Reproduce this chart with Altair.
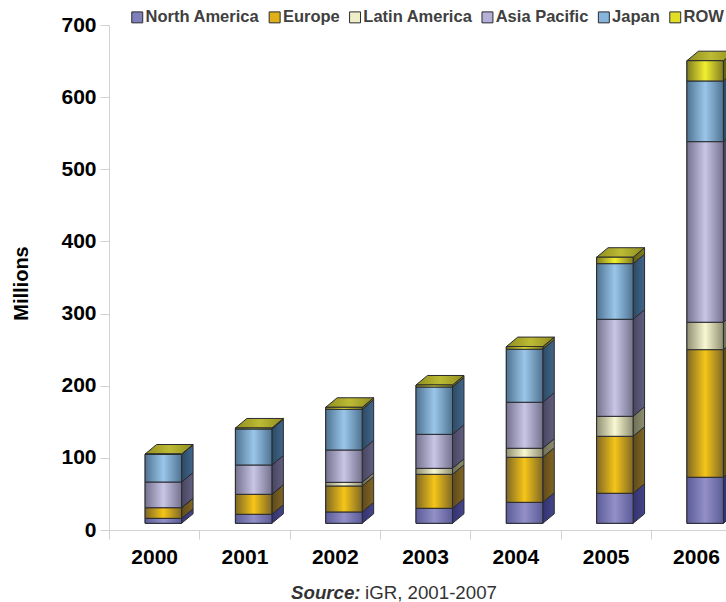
import altair as alt
import pandas as pd

years = [2000, 2001, 2002, 2003, 2004, 2005, 2006]
regions = ["North America", "Europe", "Latin America", "Asia Pacific", "Japan", "ROW"]

north_america = [6.9, 12.5, 15.7, 20.8, 29.1, 41.6, 63.8]
europe = [14.7, 27.7, 36.0, 47.1, 62.4, 79.0, 176.9]
latin_america = [0.0, 0.0, 5.1, 8.3, 12.5, 27.7, 38.0]
asia_pacific = [35.6, 40.6, 44.8, 47.1, 63.8, 134.5, 250.3]
japan = [38.4, 49.9, 56.4, 65.6, 73.5, 77.1, 84.1]
row = [0.4, 1.4, 2.8, 2.8, 3.6, 8.9, 28.1]
series = [north_america, europe, latin_america, asia_pacific, japan, row]

# per-region shades: gradient edge, gradient centre, side face (near, far), flat legend swatch
edge = ["#5b5b99", "#7f6825", "#8f8f72", "#74728f", "#4f7391", "#7f7d20"]
centre = ["#9290c6", "#f5c518", "#f8f8d2", "#c9c5e5", "#9ac6ea", "#f2ee30"]
side_near = ["#333370", "#5f4a18", "#6f6f55", "#474560", "#2c4a63", "#62600f"]
side_far = ["#45458a", "#806526", "#8e8e70", "#626080", "#42668a", "#807e1c"]
swatch = ["#7f7fbb", "#e0b01a", "#eeeec8", "#b5b1d6", "#86b4da", "#e2de28"]
top_edge = "#8f8d1e"
top_centre = "#bdbb34"
outline = "#2a2a30"
axis_grey = "#d2d2d2"
font = "Liberation Sans"

# bars sit on a raised floor and carry a pseudo-3D depth, in axis units
floor = 9.3
bar_left = 0.4
bar_width = 0.404
depth_x = 0.127
depth_y = 13.2

front_rows, side_rows, top_rows = [], [], []
for i, year in enumerate(years):
    level = floor
    left = i + bar_left
    right = left + bar_width
    for name, values in zip(regions, series):
        upper = level + values[i]
        front_rows.append(dict(year=year, region=name, x0=left, x1=right, y0=level, y1=upper))
        side_rows.append(dict(year=year, region=name, x=right, y0=level, y1=upper))
        side_rows.append(dict(year=year, region=name, x=right + depth_x, y0=level + depth_y, y1=upper + depth_y))
        level = upper
    top_rows.append(dict(year=year, x0=left, x1=right, y=level))
    top_rows.append(dict(year=year, x0=left + depth_x, x1=right + depth_x, y=level + depth_y))

front = pd.DataFrame(front_rows)
sides = pd.DataFrame(side_rows)
tops = pd.DataFrame(top_rows)

x_scale = alt.Scale(domain=[0, 617 / 90.3], nice=False, zero=False)
y_scale = alt.Scale(domain=[0, 700], nice=False)


def across(a, b):
    return alt.LinearGradient(
        gradient="linear", x1=0, x2=1, y1=0, y2=0,
        stops=[
            alt.GradientStop(offset=0, color=a),
            alt.GradientStop(offset=0.5, color=b),
            alt.GradientStop(offset=1, color=a),
        ],
    )


def fade(a, b):
    return alt.LinearGradient(
        gradient="linear", x1=0, x2=1, y1=0, y2=0,
        stops=[
            alt.GradientStop(offset=0, color=a),
            alt.GradientStop(offset=1, color=b),
        ],
    )


x_axis = alt.Axis(
    values=[v / 2 for v in range(14)],
    labelExpr="datum.value % 1 ? '' + (1999.5 + datum.value) : ''",
    labelOverlap=False, labelFont=font, labelFontSize=21, labelFontWeight="bold",
    labelColor="#000000", labelPadding=7, labelAngle=0,
    tickOpacity={"condition": {"test": "datum.value % 1 != 0", "value": 0}, "value": 1},
    tickColor=axis_grey, tickSize=9, domainColor=axis_grey, grid=False, title=None,
)
y_axis = alt.Axis(
    values=list(range(0, 701, 100)),
    labelFont=font, labelFontSize=21, labelFontWeight="bold", labelColor="#000000",
    labelPadding=4, tickColor=axis_grey, tickSize=9, domainColor=axis_grey, grid=False,
    title="Millions", titleFont=font, titleFontSize=20, titleFontWeight="bold",
    titleColor="#000000", titleX=-78, titleY=258, titleAngle=270,
)

X0 = alt.X("x0:Q", scale=x_scale, axis=x_axis)
Y0 = alt.Y("y0:Q", scale=y_scale, axis=y_axis)

# flat front faces establish the legend
base = alt.Chart(front).mark_rect(stroke=outline, strokeWidth=1).encode(
    x=X0,
    x2="x1:Q",
    y=Y0,
    y2="y1:Q",
    color=alt.Color(
        "region:N",
        scale=alt.Scale(domain=regions, range=swatch),
        legend=alt.Legend(
            title=None, orient="none", legendX=20, legendY=-16, direction="horizontal",
            columns=6, symbolType="square", symbolSize=120, symbolStrokeColor=outline,
            symbolStrokeWidth=1, labelFont=font, labelFontSize=16.5, labelFontWeight="bold",
            labelColor="#404040", labelOffset=0, columnPadding=6.4, labelLimit=200,
        ),
    ),
)

layers = [base]

for name, near, far in zip(regions, side_near, side_far):
    layers.append(
        alt.Chart(sides[sides.region == name]).mark_area(
            fill=fade(near, far), stroke=outline, strokeWidth=1, opacity=1
        ).encode(
            x=alt.X("x:Q", scale=x_scale, axis=x_axis),
            y=Y0,
            y2="y1:Q",
            detail="year:N",
        )
    )

layers.append(
    alt.Chart(tops).mark_area(
        orient="horizontal", fill=across(top_edge, top_centre), stroke=outline, strokeWidth=1
    ).encode(
        x=X0,
        x2="x1:Q",
        y=alt.Y("y:Q", scale=y_scale, axis=y_axis),
        detail="year:N",
    )
)

for name, a, b in zip(regions, edge, centre):
    layers.append(
        alt.Chart(front[(front.region == name) & (front.y1 > front.y0)]).mark_rect(
            fill=across(a, b), stroke=outline, strokeWidth=1
        ).encode(
            x=X0,
            x2="x1:Q",
            y=Y0,
            y2="y1:Q",
        )
    )

source_bold = alt.Chart(pd.DataFrame({"t": ["Source:"]})).mark_text(
    font=font, fontSize=18.7, fontWeight="bold", fontStyle="italic", color="#333333",
    align="left", baseline="middle",
).encode(x=alt.value(182), y=alt.value(568), text="t:N")
source_rest = alt.Chart(pd.DataFrame({"t": ["iGR, 2001-2007"]})).mark_text(
    font=font, fontSize=18.7, color="#333333", align="left", baseline="middle",
).encode(x=alt.value(256), y=alt.value(568), text="t:N")
layers += [source_bold, source_rest]

chart = alt.layer(*layers).properties(
    width=617,
    height=505,
    padding={"left": 109, "top": 25, "right": 0, "bottom": 72},
    autosize=alt.AutoSizeParams(type="none"),
    background="#ffffff",
).configure_view(stroke=None)

chart.save("out.html", embed_options={"renderer": "svg", "actions": False})
